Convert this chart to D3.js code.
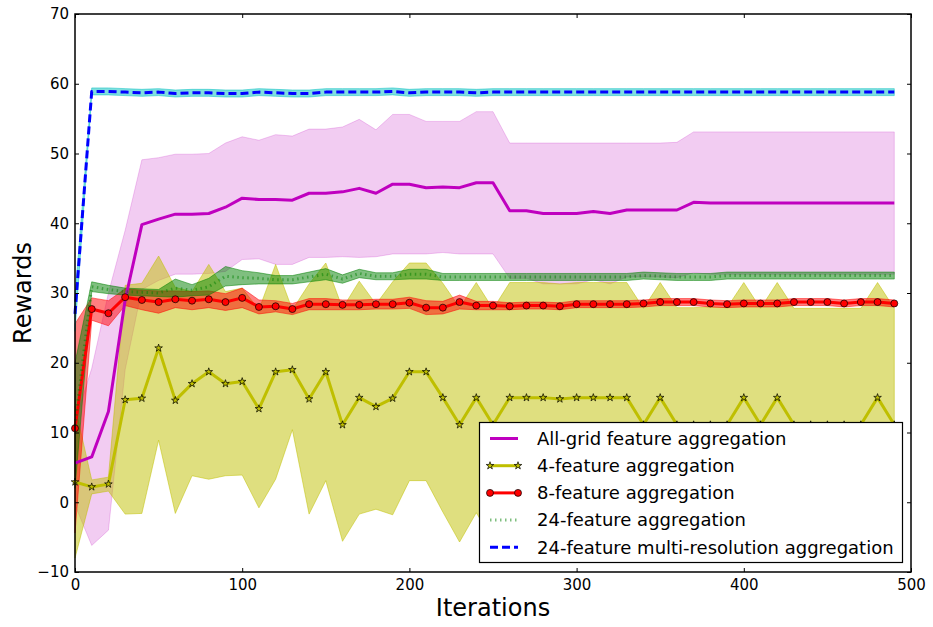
<!DOCTYPE html>
<html>
<head>
<meta charset="utf-8">
<script src="https://cdn.jsdelivr.net/npm/d3@7"></script>
<style>
body{margin:0;background:#fff;}
svg{font-family:"DejaVu Sans",sans-serif;}
</style>
</head>
<body>
<svg id="canvas" width="933" height="627"></svg>
<script>
let iterations = [0,10,20,30,40,50,60,70,80,90,100,110,120,130,140,150,160,170,180,190,200,210,220,230,240,250,260,270,280,290,300,310,320,330,340,350,360,370,380,390,400,410,420,430,440,450,460,470,480,490];

// all-grid feature aggregation
let allGridMean = [5.6,6.5,13.0,29.0,39.8,40.6,41.3,41.3,41.4,42.3,43.6,43.4,43.4,43.3,44.3,44.3,44.5,45.0,44.3,45.6,45.6,45.1,45.2,45.1,45.8,45.8,41.8,41.8,41.4,41.4,41.4,41.7,41.4,41.9,41.9,41.9,41.9,43.0,42.9,42.9,42.9,42.9,42.9,42.9,42.9,42.9,42.9,42.9,42.9,42.9];
let allGridStd = [6.0,12.7,17.0,10.0,9.3,8.8,8.6,8.6,8.6,9.2,8.8,8.5,9.3,9.2,9.2,9.2,9.3,9.9,9.1,10.0,10.0,9.5,9.4,9.5,10.2,10.2,9.7,9.7,10.1,10.1,10.1,9.8,10.1,9.6,9.6,9.6,9.7,10.1,10.2,10.2,10.2,10.2,10.2,10.2,10.2,10.2,10.2,10.2,10.2,10.2];

// 4-feature aggregation
let feat4Mean = [2.9,2.2,2.6,14.7,14.9,22.1,14.6,17.0,18.7,17.0,17.3,13.4,18.7,19.0,14.8,18.7,11.1,15.0,13.7,14.9,18.7,18.7,15.0,11.1,15.0,11.1,15.0,15.0,15.0,14.8,15.0,15.0,15.0,15.0,11.1,15.0,11.1,11.1,11.1,11.1,15.0,11.1,15.0,11.1,11.1,11.1,11.1,11.1,15.0,11.1];
let feat4Std = [10.9,1.0,1.0,16.4,16.5,13.2,16.2,13.2,15.4,13.2,13.4,14.2,15.4,8.6,16.5,15.6,16.7,16.7,14.7,16.7,15.6,15.6,16.4,16.8,16.5,16.6,16.5,16.5,16.5,16.5,16.5,16.5,16.5,16.5,16.7,16.5,16.8,16.8,16.9,16.8,16.5,16.7,16.5,16.7,16.7,16.7,16.7,16.7,16.5,16.7];

// 8-feature aggregation
let feat8Mean = [10.6,27.7,27.1,29.4,29.0,28.7,29.1,28.9,29.1,28.7,29.3,28.0,28.1,27.7,28.4,28.4,28.3,28.3,28.4,28.4,28.6,27.9,27.9,28.7,28.2,28.2,28.1,28.2,28.2,28.1,28.4,28.4,28.4,28.4,28.5,28.7,28.7,28.7,28.5,28.4,28.5,28.5,28.5,28.7,28.7,28.7,28.5,28.7,28.7,28.5];
let feat8Std = [15.0,1.6,1.8,1.2,1.4,1.6,1.2,1.3,1.2,1.2,1.4,1.0,0.8,0.8,0.8,0.8,0.7,0.7,0.7,0.7,0.8,1.0,0.9,1.0,0.6,0.6,0.5,0.5,0.5,0.5,0.5,0.5,0.5,0.5,0.5,0.5,0.5,0.5,0.5,0.5,0.5,0.5,0.5,0.5,0.5,0.5,0.5,0.5,0.5,0.5];

// 24-feature aggregation
let feat24Mean = [11.0,30.9,30.5,30.2,30.1,30.0,30.7,30.4,30.9,32.4,32.2,32.1,31.9,31.9,32.3,32.7,32.0,32.8,32.4,32.4,32.7,32.7,32.3,32.3,32.3,32.3,32.3,32.3,32.3,32.3,32.3,32.3,32.3,32.3,32.5,32.4,32.3,32.3,32.3,32.5,32.5,32.5,32.5,32.5,32.5,32.5,32.5,32.5,32.5,32.5];
let feat24Std = [9.0,0.7,0.6,0.5,0.5,0.5,1.3,0.8,1.2,1.4,1.0,0.8,0.6,0.6,0.7,0.8,0.6,0.6,0.5,0.5,0.7,0.7,0.5,0.5,0.5,0.5,0.5,0.5,0.5,0.5,0.5,0.5,0.5,0.5,0.5,0.5,0.5,0.5,0.5,0.5,0.5,0.5,0.5,0.5,0.5,0.5,0.5,0.5,0.5,0.5];

// 24-feature multi-resolution aggregation
let multiResMean = [27.0,58.9,58.9,58.8,58.7,58.8,58.6,58.7,58.7,58.6,58.6,58.8,58.7,58.6,58.6,58.8,58.8,58.8,58.8,58.9,58.7,58.8,58.8,58.8,58.7,58.8,58.8,58.8,58.8,58.8,58.8,58.8,58.8,58.8,58.8,58.8,58.8,58.8,58.8,58.8,58.8,58.8,58.8,58.8,58.8,58.8,58.8,58.8,58.8,58.8];
let multiResStd = [2.5,0.5,0.5,0.5,0.5,0.5,0.5,0.5,0.5,0.5,0.5,0.5,0.5,0.5,0.5,0.5,0.5,0.5,0.5,0.5,0.5,0.5,0.5,0.5,0.5,0.5,0.5,0.5,0.5,0.5,0.5,0.5,0.5,0.5,0.5,0.5,0.5,0.5,0.5,0.5,0.5,0.5,0.5,0.5,0.5,0.5,0.5,0.5,0.5,0.5];

let seriesNames = ["All-grid feature aggregation","4-feature aggregation","8-feature aggregation","24-feature aggregation","24-feature multi-resolution aggregation"];
let xTicks = [0,100,200,300,400,500];
let yTicks = [-10,0,10,20,30,40,50,60,70];

let series = [
    {name: seriesNames[0], mean: allGridMean, std: allGridStd, color: "#bf00bf", band: "#bf00bf", bandAlpha: 0.2, dash: null, lineAlpha: 1, marker: null},
    {name: seriesNames[1], mean: feat4Mean, std: feat4Std, color: "#bfbf00", band: "#bfbf00", bandAlpha: 0.5, dash: null, lineAlpha: 1, marker: "star"},
    {name: seriesNames[2], mean: feat8Mean, std: feat8Std, color: "#ff0000", band: "#ff0000", bandAlpha: 0.5, dash: null, lineAlpha: 1, marker: "circle"},
    {name: seriesNames[3], mean: feat24Mean, std: feat24Std, color: "#008000", band: "#008000", bandAlpha: 0.5, dash: "1.5,3.5", lineAlpha: 0.5, marker: null},
    {name: seriesNames[4], mean: multiResMean, std: multiResStd, color: "#0000ff", band: "#00bfbf", bandAlpha: 0.5, dash: "8,4", lineAlpha: 1, marker: null}
];

let plotLeft = 75, plotRight = 911, plotTop = 14, plotBottom = 572;

let canvas = d3.select("#canvas");

let xScale = d3.scaleLinear().domain([0, 500]).range([plotLeft, plotRight]);
let yScale = d3.scaleLinear().domain([-10, 70]).range([plotBottom, plotTop]);

let drawChart = () => {

    // bands first
    series.forEach(s => {
        let area = d3.area()
                     .x((d, i) => xScale(iterations[i]))
                     .y0((d, i) => yScale(s.mean[i] - s.std[i]))
                     .y1((d, i) => yScale(s.mean[i] + s.std[i]));
        canvas.append("path")
              .datum(s.mean)
              .attr("d", area)
              .attr("fill", s.band)
              .attr("fill-opacity", s.bandAlpha)
              .attr("stroke", s.band)
              .attr("stroke-opacity", s.bandAlpha)
              .attr("stroke-width", 1);
    });

    // then the mean lines and markers
    series.forEach(s => {
        let line = d3.line()
                     .x((d, i) => xScale(iterations[i]))
                     .y(d => yScale(d));
        canvas.append("path")
              .datum(s.mean)
              .attr("d", line)
              .attr("fill", "none")
              .attr("stroke", s.color)
              .attr("stroke-opacity", s.lineAlpha)
              .attr("stroke-width", 3)
              .attr("stroke-dasharray", s.dash)
              .attr("stroke-linejoin", "round");

        if(s.marker === "star"){
            canvas.append("g").selectAll("path")
                  .data(s.mean)
                  .enter()
                  .append("path")
                  .attr("d", d3.symbol().type(d3.symbolStar).size(18))
                  .attr("transform", (d, i) => "translate(" + xScale(iterations[i]) + "," + yScale(d) + ")")
                  .attr("fill", s.color)
                  .attr("stroke", "#000")
                  .attr("stroke-width", 0.7);
        }else if(s.marker === "circle"){
            canvas.append("g").selectAll("circle")
                  .data(s.mean)
                  .enter()
                  .append("circle")
                  .attr("cx", (d, i) => xScale(iterations[i]))
                  .attr("cy", d => yScale(d))
                  .attr("r", 3.5)
                  .attr("fill", s.color)
                  .attr("stroke", "#000")
                  .attr("stroke-width", 0.7);
        }
    });

    // axes, ticks pointing inward
    let fmt = d3.format("");
    canvas.append("g")
          .attr("transform", "translate(0," + plotBottom + ")")
          .call(d3.axisBottom(xScale).tickValues(xTicks).tickFormat(fmt).tickSizeInner(-4).tickSizeOuter(0).tickPadding(7));
    canvas.append("g")
          .attr("transform", "translate(0," + plotTop + ")")
          .call(d3.axisTop(xScale).tickValues(xTicks).tickFormat("").tickSizeInner(-4).tickSizeOuter(0));
    canvas.append("g")
          .attr("transform", "translate(" + plotLeft + ",0)")
          .call(d3.axisLeft(yScale).tickValues(yTicks).tickFormat(fmt).tickSizeInner(-4).tickSizeOuter(0).tickPadding(6));
    canvas.append("g")
          .attr("transform", "translate(" + plotRight + ",0)")
          .call(d3.axisRight(yScale).tickValues(yTicks).tickFormat("").tickSizeInner(-4).tickSizeOuter(0));

    canvas.selectAll(".tick text")
          .attr("font-size", 15)
          .attr("font-family", "DejaVu Sans")
          .attr("fill", "#000");
    canvas.selectAll(".domain").remove();

    canvas.append("rect")
          .attr("x", plotLeft)
          .attr("y", plotTop)
          .attr("width", plotRight - plotLeft)
          .attr("height", plotBottom - plotTop)
          .attr("fill", "none")
          .attr("stroke", "#000")
          .attr("stroke-width", 1.5);

    // axis titles
    canvas.append("text")
          .attr("x", (plotLeft + plotRight) / 2)
          .attr("y", 616)
          .attr("text-anchor", "middle")
          .attr("font-size", 24)
          .text("Iterations");
    canvas.append("text")
          .attr("transform", "translate(31," + (plotTop + plotBottom) / 2 + ") rotate(-90)")
          .attr("text-anchor", "middle")
          .attr("font-size", 24)
          .text("Rewards");

    // legend
    let legend = canvas.append("g");
    legend.append("rect")
          .attr("x", 479.5)
          .attr("y", 422.5)
          .attr("width", 423)
          .attr("height", 140)
          .attr("fill", "#fff")
          .attr("stroke", "#000")
          .attr("stroke-width", 1.2);

    series.forEach((s, i) => {
        let ly = 438.5 + i * 27.2;
        legend.append("line")
              .attr("x1", 490)
              .attr("x2", 518)
              .attr("y1", ly)
              .attr("y2", ly)
              .attr("stroke", s.color)
              .attr("stroke-opacity", s.lineAlpha)
              .attr("stroke-width", 3)
              .attr("stroke-dasharray", s.dash);
        [490, 518].forEach(mx => {
            if(s.marker === "star"){
                legend.append("path")
                      .attr("d", d3.symbol().type(d3.symbolStar).size(18))
                      .attr("transform", "translate(" + mx + "," + ly + ")")
                      .attr("fill", s.color)
                      .attr("stroke", "#000")
                      .attr("stroke-width", 0.7);
            }else if(s.marker === "circle"){
                legend.append("circle")
                      .attr("cx", mx)
                      .attr("cy", ly)
                      .attr("r", 3.5)
                      .attr("fill", s.color)
                      .attr("stroke", "#000")
                      .attr("stroke-width", 0.7);
            }
        });
        legend.append("text")
              .attr("x", 537)
              .attr("y", ly)
              .attr("dy", "0.35em")
              .attr("font-size", 18)
              .text(s.name);
    });
}

drawChart();
</script>
</body>
</html>
